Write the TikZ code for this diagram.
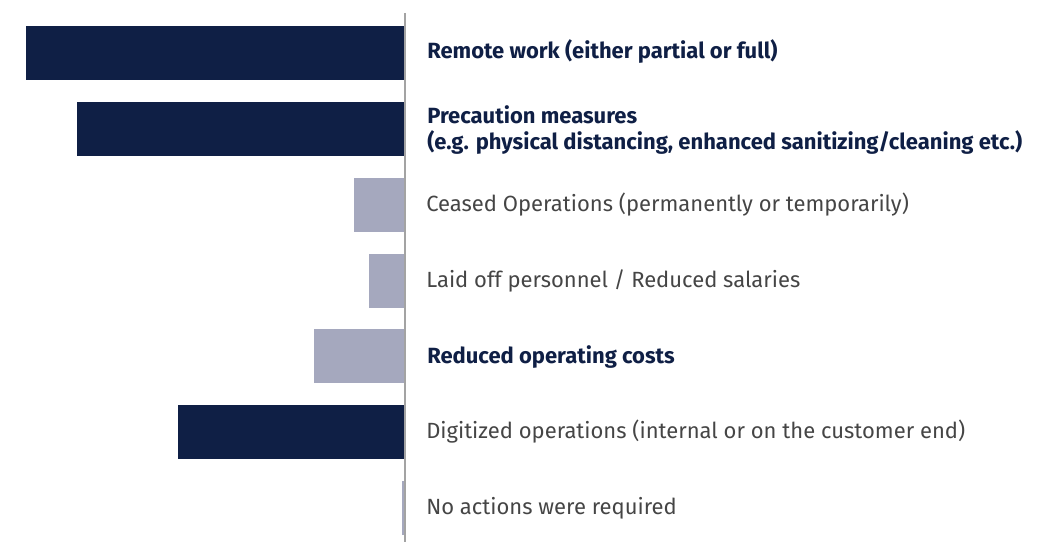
\documentclass[tikz,border=0pt]{standalone}
\usepackage{fontspec}
\setmainfont{Fira Sans}
\usepackage{xcolor}
\definecolor{navy}{HTML}{0F1F45}
\definecolor{lilac}{HTML}{A5A8BE}
\definecolor{axisgray}{HTML}{A3A3A3}
\definecolor{labelgray}{HTML}{454545}
\tikzset{
	barlabel/.style={anchor=west,inner sep=0pt,align=left,text=labelgray,font=\fontsize{16.5}{20}\selectfont},
	keylabel/.style={barlabel,text=navy,font=\fontsize{16.5}{20}\selectfont\bfseries}
}

\begin{document}
\begin{tikzpicture}[x=0.75pt,y=-0.75pt]
	\useasboundingbox (0,0) rectangle (1062,542);
	\foreach \xl/\yt/\col in {26/26/navy,77/102/navy,354/178/lilac,369/254/lilac,314/329/lilac,178/405/navy,402/481/lilac}
		\fill[\col] (\xl,\yt) rectangle (404,\yt+54);
	\draw[axisgray,line width=1.5pt] (404.5,13) -- (404.5,542);
	\node[keylabel] (remote) at (427,51) {Remote work (either partial or full)};
	\node[keylabel] (precaution) at (427,130) {Precaution measures\\(e.g. physical distancing, enhanced sanitizing/cleaning etc.)};
	\node[barlabel] (ceased) at (426,205) {Ceased Operations (permanently or temporarily)};
	\node[barlabel] (laidoff) at (426,281) {Laid off personnel / Reduced salaries};
	\node[keylabel] (costs) at (427,357) {Reduced operating costs};
	\node[barlabel] (digitized) at (426,432) {Digitized operations (internal or on the customer end)};
	\node[barlabel] (noaction) at (426,508) {No actions were required};
\end{tikzpicture}
\end{document}
